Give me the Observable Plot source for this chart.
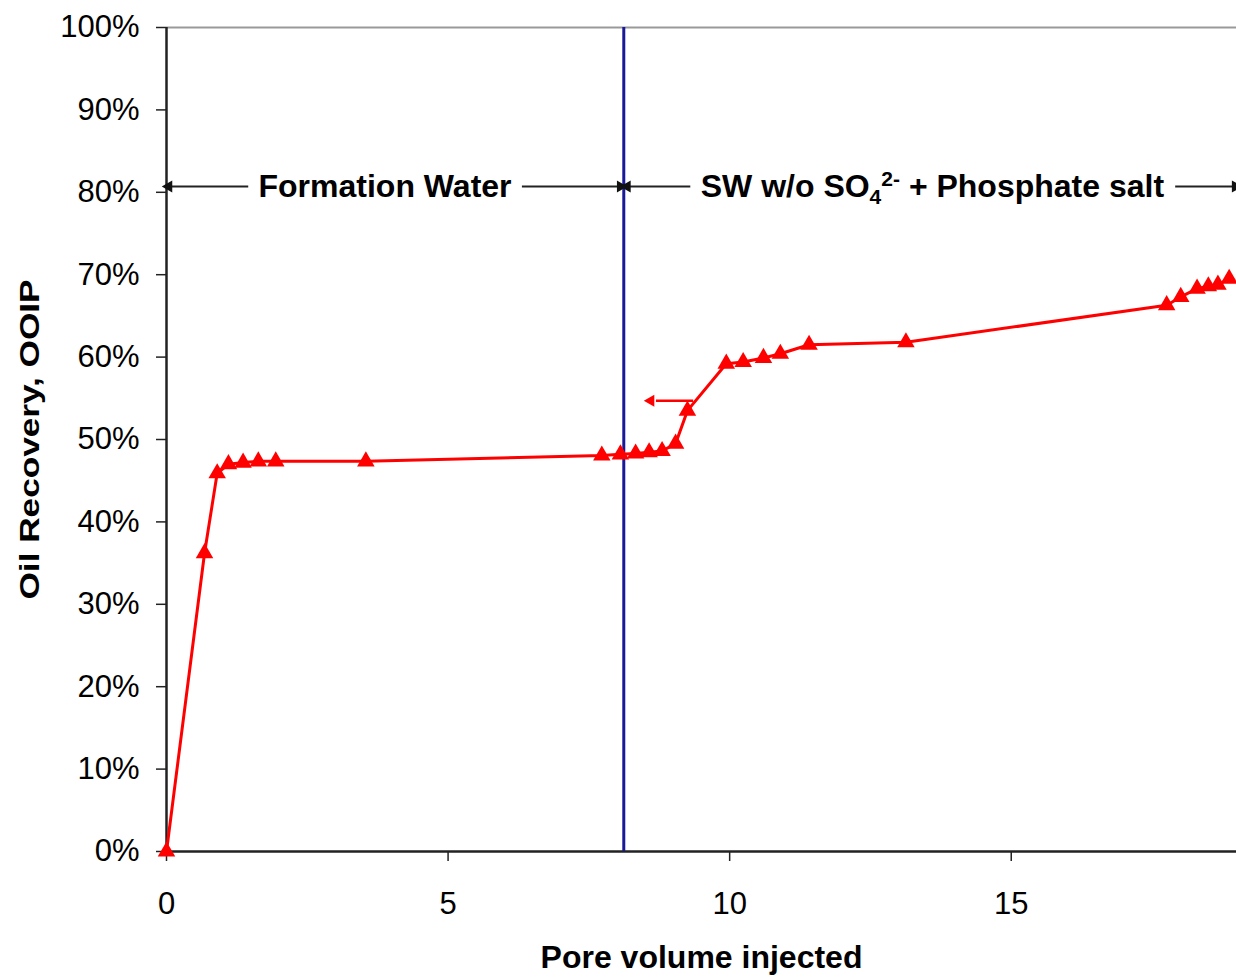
<!DOCTYPE html>
<html>
<head>
<meta charset="utf-8">
<script src="https://cdn.jsdelivr.net/npm/d3@7"></script>
<script src="https://cdn.jsdelivr.net/npm/@observablehq/plot@0.6"></script>
<style>
  html, body { margin: 0; padding: 0; background: #fff; }
  #chart { width: 1236px; height: 977px; overflow: hidden; }
</style>
</head>
<body>
<div id="chart"></div>
<script>
// Pore volume injected (x) and oil recovery in % OOIP (y)
const poreVolume = [0, 0.675, 0.9, 1.1, 1.36, 1.63, 1.94, 3.54, 7.73, 8.06, 8.33, 8.57, 8.8, 9.04, 9.25, 9.94, 10.24, 10.6, 10.9, 11.41, 13.13, 17.76, 18.01, 18.3, 18.5, 18.67, 18.87];
const recovery   = [0, 36.2, 45.9, 47.0, 47.2, 47.35, 47.35, 47.35, 48.06, 48.2, 48.3, 48.45, 48.6, 49.5, 53.5, 59.2, 59.4, 59.9, 60.4, 61.5, 61.8, 66.3, 67.3, 68.3, 68.6, 68.8, 69.5];

const xTicks = [0, 5, 10, 15];
const yTicks = [0, 10, 20, 30, 40, 50, 60, 70, 80, 90, 100];

// Switch of injected brine
const switchPV = 8.12;

// Stage annotation (level, labels, positions of label centres and arrow segments)
const stageLevel = 80.7;
const stageLabels = ["Formation Water", "SW w/o SO4 + Phosphate salt"];
const stageLabelX = [3.88, 13.6];
const stageSegStart = [1.46, 6.32, 9.31, 17.92];
const stageSegEnd   = [0.04, 8.06, 8.18, 18.98];

// Small pointer arrow on the curve
const pointerLevel = 54.7;
const pointerFrom = 9.36;
const pointerTo = 8.6;

const data = poreVolume.map((x, i) => ({x, y: recovery[i]}));
const segs = stageSegStart.map((s, i) => ({x1: s, x2: stageSegEnd[i], y: stageLevel, dir: stageSegEnd[i] > s ? 90 : -90}));

const font = "'Liberation Sans', Arial, sans-serif";

const chart = Plot.plot({
  width: 1236,
  height: 977,
  marginLeft: 166,
  marginRight: 0,
  marginTop: 27,
  marginBottom: 126,
  style: {fontFamily: font, background: "#fff", color: "#000", overflow: "visible"},
  x: {domain: [0, 19]},
  y: {domain: [0, 100]},
  marks: [
    Plot.axisY({ticks: yTicks, tickFormat: d => d + "%", tickSize: 10, tickPadding: 17, fontSize: 31, label: null, stroke: "#222", strokeWidth: 1.5}),
    Plot.axisX({ticks: xTicks, tickFormat: d => String(d), tickSize: 10, tickPadding: 30, fontSize: 31, label: null, stroke: "#222", strokeWidth: 1.5}),
    Plot.ruleY([100], {stroke: "#999", strokeWidth: 2}),
    Plot.ruleY([0], {stroke: "#222", strokeWidth: 2.5}),
    Plot.ruleX([0], {stroke: "#222", strokeWidth: 2.5}),
    Plot.ruleX([switchPV], {stroke: "#1a1a99", strokeWidth: 3}),
    // stage arrows
    Plot.ruleY(segs, {x1: "x1", x2: "x2", y: "y", stroke: "#222", strokeWidth: 2}),
    Plot.dot(segs, {x: "x2", y: "y", symbol: "triangle", r: 4.5, fill: "#111", stroke: "none", rotate: "dir"}),
    Plot.text([0], {x: stageLabelX[0], y: stageLevel, text: () => stageLabels[0], fontSize: 32, fontWeight: "bold", fill: "#000"}),
    Plot.text([0], {x: stageLabelX[1], y: stageLevel, text: () => stageLabels[1], fontSize: 32, fontWeight: "bold", fill: "#000", className: "swlabel"}),
    // pointer arrow
    Plot.ruleY([pointerLevel], {x1: pointerFrom, x2: pointerTo + 0.1, stroke: "#ff0000", strokeWidth: 2.5}),
    Plot.dot([pointerLevel], {x: pointerTo, y: d => d, symbol: "triangle", r: 4.5, fill: "#ff0000", stroke: "none", rotate: -90}),
    // data
    Plot.line(data, {x: "x", y: "y", stroke: "#ff0000", strokeWidth: 3, clip: true}),
    Plot.dot(data, {x: "x", y: "y", symbol: "triangle", r: 6.5, fill: "#ff0000", stroke: "none"}),
    // axis titles
    Plot.text(["Pore volume injected"], {frameAnchor: "bottom", dy: 116, text: d => d, fontSize: 32, fontWeight: "bold", fill: "#000"}),
    Plot.text(["Oil Recovery, OOIP"], {frameAnchor: "left", textAnchor: "middle", dx: -136, rotate: -90, text: d => d, fontSize: 28, fontWeight: "bold", fill: "#000", className: "ytitle"})
  ]
});

// Rich text for the SW label: SO4 with subscript 4 and superscript 2-
const sw = d3.select(chart).select(".swlabel text");
if (!sw.empty()) {
  sw.text(null);
  sw.append("tspan").text("SW w/o SO");
  sw.append("tspan").attr("dy", 7).attr("font-size", 21).text("4");
  sw.append("tspan").attr("dy", -18).attr("font-size", 21).text("2-");
  sw.append("tspan").attr("dy", 11).text(" + Phosphate salt");
}
// The y title in the reference is elongated along its length
d3.select(chart).select(".ytitle text").attr("textLength", 320).attr("lengthAdjust", "spacingAndGlyphs");

document.getElementById("chart").appendChild(chart);
</script>
</body>
</html>
